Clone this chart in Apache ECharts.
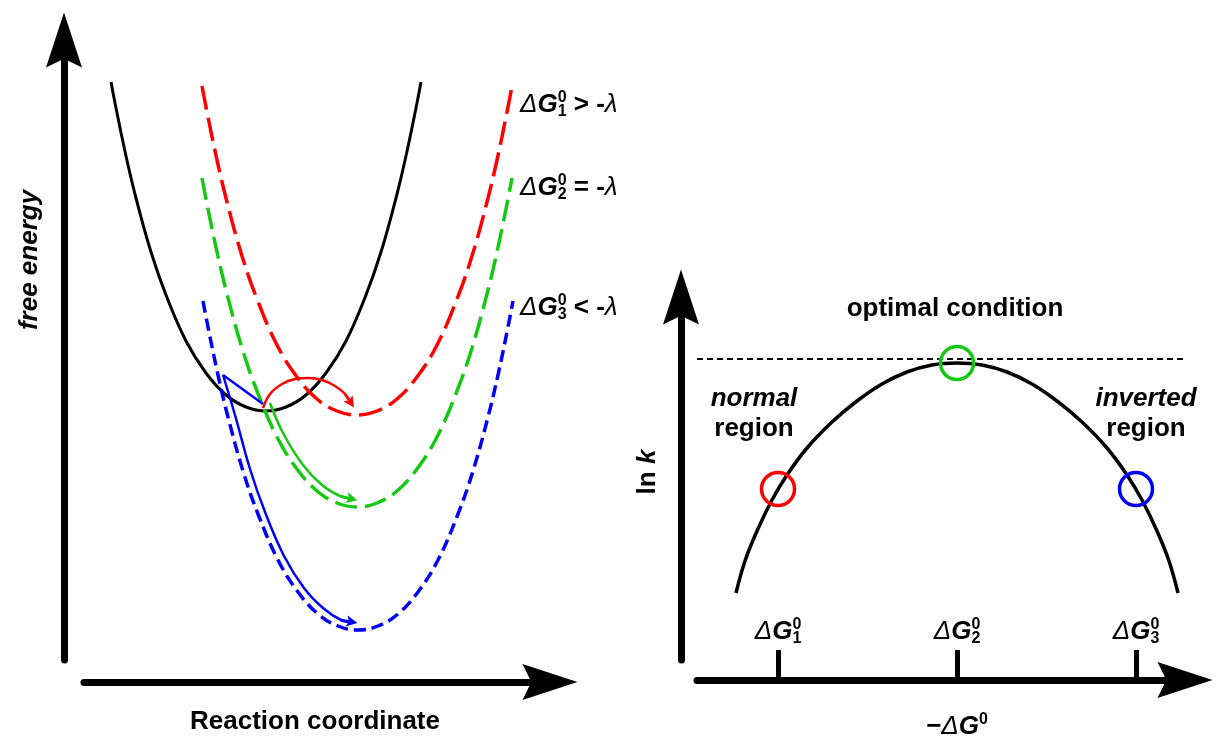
<!DOCTYPE html>
<html><head><meta charset="utf-8">
<script src="https://cdn.jsdelivr.net/npm/echarts@6/dist/echarts.min.js"></script>
<style>html,body{margin:0;padding:0;background:#fff}#c{width:1219px;height:736px}</style>
</head><body><div id="c"></div>
<script>
// ---------- Left panel: free energy vs reaction coordinate (arbitrary units) ----------
const reactantCurve = [[2.7,57.8],[3.2,55.2],[4.2,50.4],[5.2,46.2],[6.7,40.8],[8.2,36.5],[10.2,31.9],[12.2,28.7],[14.2,26.5],[16.2,25.3],[18.2,24.9],[20.2,25.3],[22.2,26.5],[24.2,28.7],[26.2,31.9],[28.2,36.5],[29.7,40.8],[31.2,46.2],[32.2,50.4],[33.2,55.2],[33.7,57.8]];
const product1Curve = [[11.8,57.4],[12.3,54.8],[13.3,50.0],[14.3,45.8],[15.8,40.4],[17.3,36.1],[19.3,31.5],[21.3,28.3],[23.3,26.1],[25.3,24.9],[27.3,24.5],[29.3,24.9],[31.3,26.1],[33.3,28.3],[35.3,31.5],[37.3,36.1],[38.8,40.4],[40.3,45.8],[41.3,50.0],[42.3,54.8],[42.8,57.4]];
const product2Curve = [[11.8,48.2],[12.3,45.6],[13.3,40.8],[14.3,36.6],[15.8,31.2],[17.3,26.9],[19.3,22.3],[21.3,19.1],[23.3,16.9],[25.3,15.7],[27.3,15.3],[29.3,15.7],[31.3,16.9],[33.3,19.1],[35.3,22.3],[37.3,26.9],[38.8,31.2],[40.3,36.6],[41.3,40.8],[42.3,45.6],[42.8,48.2]];
const product3Curve = [[11.9,35.9],[12.4,33.3],[13.4,28.5],[14.4,24.3],[15.9,18.9],[17.4,14.6],[19.4,10.0],[21.4,6.8],[23.4,4.6],[25.4,3.4],[27.4,3.0],[29.4,3.4],[31.4,4.6],[33.4,6.8],[35.4,10.0],[37.4,14.6],[38.9,18.9],[40.4,24.3],[41.4,28.5],[42.4,33.3],[42.9,35.9]];
const transfer1Path = [[17.9,25.2],[18.6,26.6],[19.8,27.6],[21.1,28.1],[22.4,28.2],[23.8,28.0],[25.1,27.4],[26.1,26.6],[26.7,25.7]];
const transfer2Path = [[18.6,25.7],[19.9,22.7],[21.9,19.5],[23.8,17.5],[25.6,16.4],[26.8,16.1]];
const transfer3Start = [[17.9,25.6],[13.9,28.5]];
const transfer3Path = [[13.9,28.5],[15.1,24.5],[16.6,19.1],[18.1,14.8],[20.0,10.4],[22.0,7.2],[23.9,5.2],[25.7,4.0],[26.8,3.8]];
const productLabels = ['1','2','3'];
const productRelations = [' > -',' = -',' < -'];

// ---------- Right panel: ln k vs -ΔG0 (arbitrary units) ----------
const drivingForce = [3.9,4.8,6.0,7.5,9.0,11.0,13.5,16.0,18.5,21.0,23.5,26.0,28.5,31.0,33.5,36.0,38.5,41.0,43.0,44.5,46.0,47.2,48.1];
const lnK = [6.7,9.9,12.9,16.0,18.5,21.2,23.8,25.9,27.6,28.8,29.5,29.7,29.5,28.8,27.6,25.9,23.8,21.2,18.5,16.0,12.9,9.9,6.7];
const caseNames = ['1','2','3'];
const caseDrivingForce = [8.1,26.0,43.9];
const caseLnK = [17.1,29.7,17.1];
const optimalLnK = 30.1;
const optimalLineX = [0, 51];

// ---------- styling ----------
const F = "'Liberation Sans', Arial, Helvetica, sans-serif";
const RED = '#ff0000', GREEN = '#14c814', BLUE = '#0000f5';
const caseColors = [RED, GREEN, BLUE];
function arrowPath(w, l, notch) { return 'path://M' + (w/2) + ',0 L' + w + ',' + l + ' L' + (w/2) + ',' + (l*notch) + ' L0,' + l + ' Z'; }
const AX = arrowPath(36, 55, 0.84);
const smallArrow = arrowPath(10, 12, 0.8);

function tok(o) { return Object.assign({fontFamily: F, fontSize: 26, fontWeight: 'bold', fill: '#000', lineHeight: 30}, o); }
const richG = {
  d: tok({fontStyle: 'italic', fontWeight: 'normal'}),
  g: tok({fontStyle: 'italic'}),
  s: tok({fontSize: 16, lineHeight: 22, verticalAlign: 'top'}),
  b: tok({fontSize: 16, lineHeight: 14, verticalAlign: 'bottom'}),
  t: tok({}),
  i: tok({fontStyle: 'italic'}),
  l: tok({fontStyle: 'italic', fontWeight: 'normal'}),
  hd: tok({fontStyle: 'italic', fontWeight: 'normal', fill: 'rgba(0,0,0,0)'}),
  hg: tok({fontStyle: 'italic', fill: 'rgba(0,0,0,0)'})
};
function ctok(o) { const r = tok(o); r.color = r.fill; delete r.fill; return r; }
const richAxis = {
  d: ctok({fontStyle: 'italic', fontWeight: 'normal'}),
  g: ctok({fontStyle: 'italic'}),
  s: ctok({fontSize: 16, lineHeight: 22, verticalAlign: 'top'}),
  b: ctok({fontSize: 16, lineHeight: 14, verticalAlign: 'bottom'}),
  hd: ctok({fontStyle: 'italic', fontWeight: 'normal', fill: 'rgba(0,0,0,0)'}),
  hg: ctok({fontStyle: 'italic', fill: 'rgba(0,0,0,0)'})
};

function txt(x, y, text, extra) {
  return {type: 'text', x: x, y: y, z: 100,
    style: Object.assign({text: text, fontFamily: F, fontSize: 26, fontWeight: 'bold', fill: '#000', align: 'center', verticalAlign: 'middle', rich: richG}, extra || {})};
}

const graphics = [];
const labelYs = [105, 188, 308];
productLabels.forEach(function (n, i) {
  graphics.push(txt(520, labelYs[i], '{d|Δ}{g|G}{s|0}{t|' + productRelations[i] + '}{l|λ}', {align: 'left'}));
  graphics.push(txt(520, labelYs[i], '{hd|Δ}{hg|G}{b|' + n + '}', {align: 'left'}));
});
const fe = txt(30, 260, 'free energy', {fontStyle: 'italic'}); fe.rotation = Math.PI / 2; graphics.push(fe);
graphics.push(txt(315, 722, 'Reaction coordinate'));
graphics.push(txt(955, 309, 'optimal condition'));
graphics.push(txt(754, 414, '{i|normal}\n{t|region}', {lineHeight: 34}));
graphics.push(txt(1146, 414, '{i|inverted}\n{t|region}', {lineHeight: 34}));
const lk = txt(648, 472, '{t|ln }{i|k}'); lk.rotation = Math.PI / 2; graphics.push(lk);
graphics.push(txt(957, 727, '{t|−}{d|Δ}{g|G}{s|0}'));

function nearestCase(v) { let b = 0; caseDrivingForce.forEach(function (c, i) { if (Math.abs(c - v) < Math.abs(caseDrivingForce[b] - v)) b = i; }); return b; }

const hidden = {show: false};
const option = {
  animation: false,
  backgroundColor: '#fff',
  grid: [
    {left: 84, top: 40, width: 466, height: 620, outerBoundsMode: 'none', containLabel: false},
    {left: 697, top: 297, width: 488, height: 363, outerBoundsMode: 'none', containLabel: false}
  ],
  xAxis: [
    {gridIndex: 0, type: 'value', min: 0, max: 46.6, position: 'bottom', offset: 22,
     axisLine: {onZero: false, lineStyle: {color: '#000', width: 7}, symbol: ['none', AX], symbolSize: [36, 55]},
     axisTick: hidden, axisLabel: hidden, splitLine: hidden},
    {gridIndex: 1, type: 'value', min: 0, max: 48.8, position: 'bottom', offset: 20,
     axisLine: {onZero: false, lineStyle: {color: '#000', width: 7}, symbol: ['none', AX], symbolSize: [36, 55]},
     axisTick: {show: true, inside: true, length: 30, lineStyle: {color: '#000', width: 5}, customValues: caseDrivingForce},
     axisLabel: {show: true, inside: true, margin: 33, customValues: caseDrivingForce, rich: richAxis,
       formatter: function () { return '{d|Δ}{g|G}{s|0}'; }},
     splitLine: hidden},
    {gridIndex: 1, type: 'value', min: 0, max: 48.8, position: 'bottom', offset: 20,
     axisLine: hidden, axisTick: hidden,
     axisLabel: {show: true, inside: true, margin: 33, customValues: caseDrivingForce, rich: richAxis,
       formatter: function (v) { return '{hd|Δ}{hg|G}{b|' + caseNames[nearestCase(v)] + '}'; }},
     splitLine: hidden}
  ],
  yAxis: [
    {gridIndex: 0, type: 'value', min: 0, max: 62, position: 'left', offset: 20,
     axisLine: {onZero: false, lineStyle: {color: '#000', width: 7}, symbol: ['none', AX], symbolSize: [36, 55]},
     axisTick: hidden, axisLabel: hidden, splitLine: hidden},
    {gridIndex: 1, type: 'value', min: 0, max: 36.3, position: 'left', offset: 16,
     axisLine: {onZero: false, lineStyle: {color: '#000', width: 7}, symbol: ['none', AX], symbolSize: [36, 55]},
     axisTick: hidden, axisLabel: hidden, splitLine: hidden}
  ],
  graphic: graphics,
  series: [
    {type: 'line', xAxisIndex: 0, yAxisIndex: 0, data: reactantCurve, smooth: 0.4, symbol: 'none', lineStyle: {color: '#000', width: 3}},
    {type: 'line', xAxisIndex: 0, yAxisIndex: 0, data: product1Curve, smooth: 0.4, symbol: 'none', lineStyle: {color: RED, width: 3.5, type: [24, 8]}},
    {type: 'line', xAxisIndex: 0, yAxisIndex: 0, data: product2Curve, smooth: 0.4, symbol: 'none', lineStyle: {color: GREEN, width: 3.5, type: [22, 8]}},
    {type: 'line', xAxisIndex: 0, yAxisIndex: 0, data: product3Curve, smooth: 0.4, symbol: 'none', lineStyle: {color: BLUE, width: 3.5, type: [12, 6]}},
    {type: 'line', xAxisIndex: 0, yAxisIndex: 0, data: transfer1Path, smooth: 0.4, symbol: 'none', lineStyle: {color: RED, width: 2.5}},
    {type: 'line', xAxisIndex: 0, yAxisIndex: 0, data: transfer2Path, smooth: 0.4, symbol: 'none', lineStyle: {color: GREEN, width: 2.5}},
    {type: 'line', xAxisIndex: 0, yAxisIndex: 0, data: transfer3Start, symbol: 'none', lineStyle: {color: BLUE, width: 2.5}},
    {type: 'line', xAxisIndex: 0, yAxisIndex: 0, data: transfer3Path, smooth: 0.4, symbol: 'none', lineStyle: {color: BLUE, width: 2.5}},
    {type: 'lines', coordinateSystem: 'cartesian2d', xAxisIndex: 0, yAxisIndex: 0,
     symbol: ['none', smallArrow], symbolSize: 11, lineStyle: {width: 2.5, opacity: 1},
     data: [transfer1Path, transfer2Path, transfer3Path].map(function (p, i) {
       return {coords: [p[p.length - 2], p[p.length - 1]], lineStyle: {color: caseColors[i]}};
     })},
    {type: 'line', xAxisIndex: 1, yAxisIndex: 1, data: drivingForce.map(function (x, i) { return [x, lnK[i]]; }), smooth: 0.4, symbol: 'none', lineStyle: {color: '#000', width: 3.5}},
    {type: 'line', xAxisIndex: 1, yAxisIndex: 1, clip: false, data: optimalLineX.map(function (x) { return [x, optimalLnK]; }), symbol: 'none', lineStyle: {color: '#000', width: 2, type: [6, 4]}},
    {type: 'scatter', xAxisIndex: 1, yAxisIndex: 1, symbol: 'circle', symbolSize: 33, z: 5,
     itemStyle: {color: 'rgba(0,0,0,0)', borderWidth: 3.5, opacity: 1},
     data: caseDrivingForce.map(function (x, i) { return {value: [x, caseLnK[i]], itemStyle: {borderColor: caseColors[i]}}; })}
  ]
};
const chart = echarts.init(document.getElementById('c'), null, {renderer: 'canvas'});
chart.setOption(option);
</script>
</body></html>
